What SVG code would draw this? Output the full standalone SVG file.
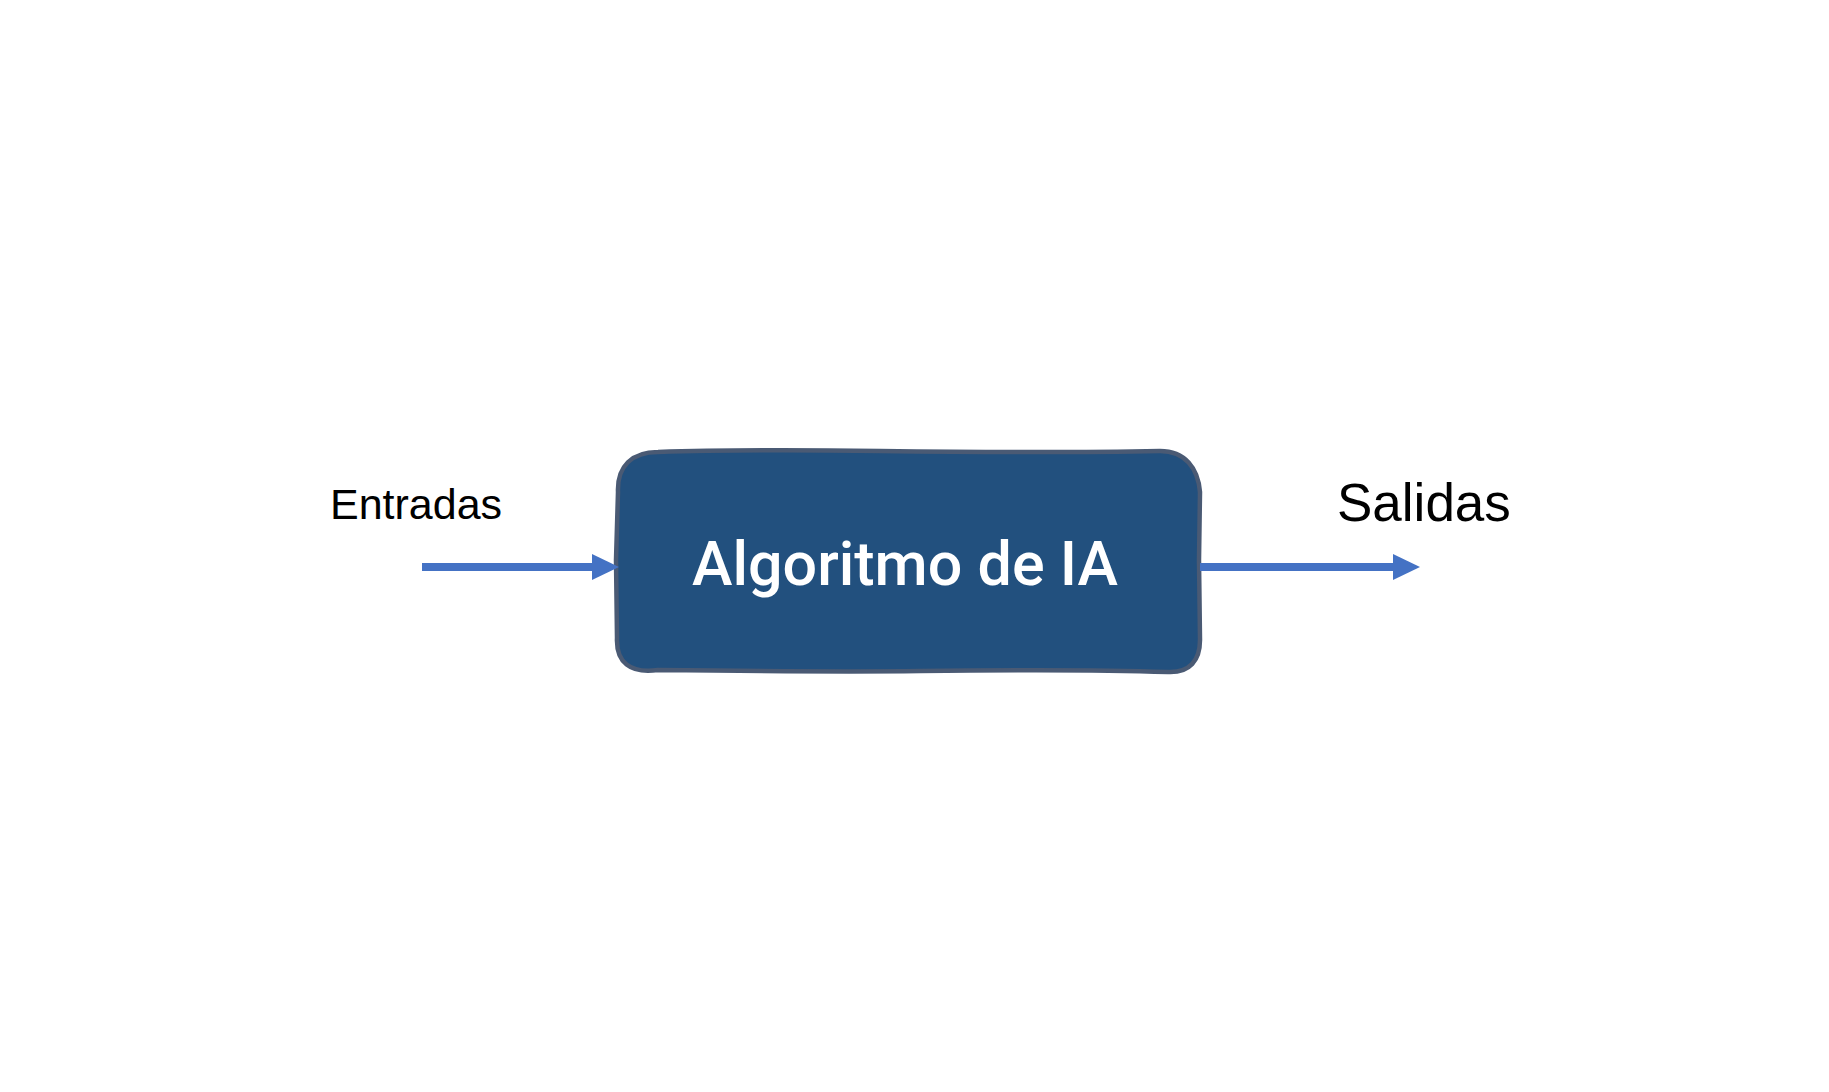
<svg xmlns="http://www.w3.org/2000/svg" width="1829" height="1092" viewBox="0 0 1829 1092">
<style>
.lbl{font-family:"Liberation Sans",Arial,sans-serif;fill:#000}
.title{font-family:Roboto,"Liberation Sans",sans-serif;font-weight:500;fill:#fff}
.conn{stroke:#4472c4;stroke-width:8;fill:none}
.head{fill:#4472c4}
</style>
<rect width="1829" height="1092" fill="#fff"/>
<g id="node-algoritmo">
<path d="M 618,492 C 617,466 632,452 658,452 C 720,450 800,450 880,451 C 960,452 1060,453 1160,451 C 1185,451 1198,468 1200,492 L 1199,560 L 1200,640 C 1200,660 1190,673 1168,672 C 1080,669 1000,670 920,671 C 840,672 740,671 658,670 C 630,674 616,662 617,638 L 616,560 Z" fill="#22507e" stroke="#4a5a74" stroke-width="4.5" stroke-linejoin="round"/>
<text class="title" x="905" y="585" font-size="61" text-anchor="middle">Algoritmo de IA</text>
</g>
<g id="node-entradas">
<text class="lbl" x="330" y="519" font-size="43">Entradas</text>
</g>
<g id="node-salidas">
<text class="lbl" x="1337" y="521" font-size="53">Salidas</text>
</g>
<g id="connectors">
<line class="conn" x1="422" y1="567" x2="594" y2="567"/>
<polygon class="head" points="592,554 619,567 592,580"/>
<line class="conn" x1="1200" y1="567" x2="1395" y2="567"/>
<polygon class="head" points="1393,554 1420,567 1393,580"/>
</g>
</svg>
